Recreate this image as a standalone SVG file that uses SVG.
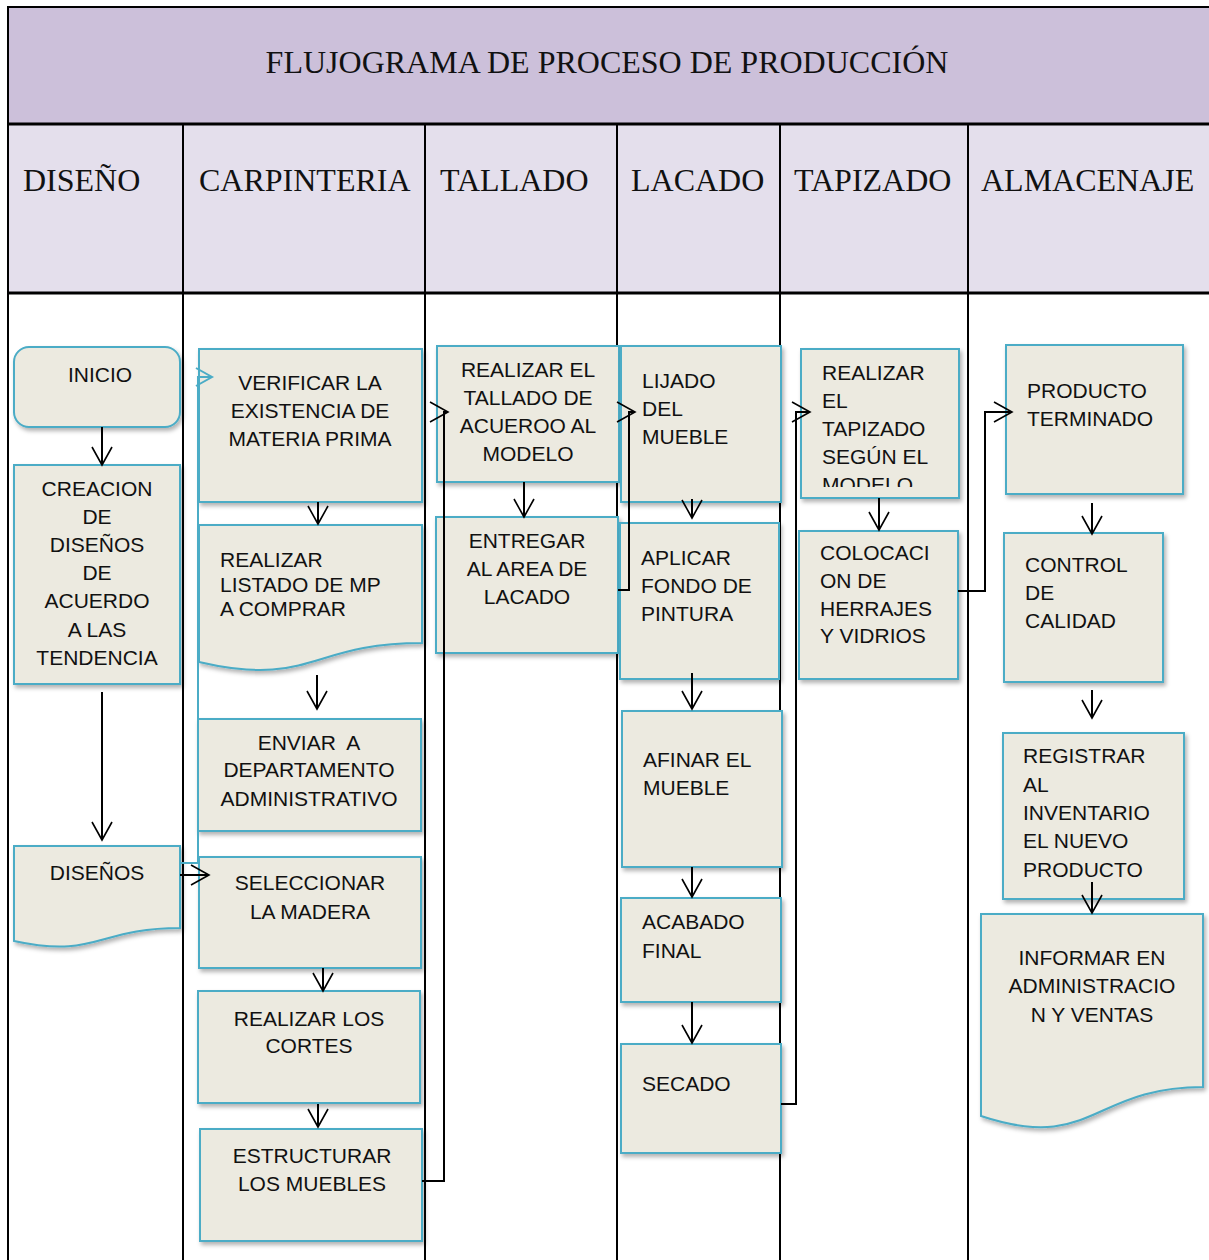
<svg xmlns="http://www.w3.org/2000/svg" width="1209" height="1260" viewBox="0 0 1209 1260">
<style>
.frame{stroke:#000;stroke-width:2;fill:none}
.thick{stroke:#000;stroke-width:3;fill:none}
.hdr{font-family:"Liberation Serif","Times New Roman",serif;font-size:32px;fill:#111}
.box{fill:#ECEAE0;stroke:#4BACC6;stroke-width:2;filter:url(#sh)}
.t{font-family:"Liberation Sans",Arial,sans-serif;font-size:21px;fill:#111}
.c{text-anchor:middle}
.conn{fill:none;stroke:#000;stroke-width:2}
.blue{fill:none;stroke:#4BACC6;stroke-width:2}
</style>
<defs>
<filter id="sh" x="-10%" y="-10%" width="130%" height="130%">
<feDropShadow dx="2" dy="3" stdDeviation="2" flood-color="#000" flood-opacity="0.3"/>
</filter>
<marker id="ah" markerUnits="userSpaceOnUse" markerWidth="22" markerHeight="24" refX="19" refY="11" orient="auto">
<path d="M1,1 L19,11 L1,21" fill="none" stroke="#000" stroke-width="1.6"/>
</marker>
<marker id="ahb" markerUnits="userSpaceOnUse" markerWidth="22" markerHeight="24" refX="17" refY="10" orient="auto">
<path d="M1,1 L17,10 L1,19" fill="none" stroke="#4BACC6" stroke-width="2"/>
</marker>
<clipPath id="clipTap"><rect x="801" y="349" width="158" height="138"/></clipPath>
</defs>

<g id="background">
<rect x="8" y="7" width="1201" height="117" fill="#CCC0DA"/>
<rect x="8" y="124" width="1201" height="169" fill="#E4DFEC"/>
<line class="frame" x1="8" y1="7" x2="1209" y2="7"/>
<line class="frame" x1="8" y1="6" x2="8" y2="1260"/>
<line class="thick" x1="8" y1="124" x2="1209" y2="124"/>
<line class="thick" x1="8" y1="293" x2="1209" y2="293"/>
<line class="frame" x1="183" y1="124" x2="183" y2="1260"/>
<line class="frame" x1="425" y1="124" x2="425" y2="1260"/>
<line class="frame" x1="617" y1="124" x2="617" y2="1260"/>
<line class="frame" x1="780" y1="124" x2="780" y2="1260"/>
<line class="frame" x1="968" y1="124" x2="968" y2="1260"/>
<text class="hdr" x="607" y="73" text-anchor="middle">FLUJOGRAMA DE PROCESO DE PRODUCCIÓN</text>
<text class="hdr" x="23" y="191">DISEÑO</text>
<text class="hdr" x="199" y="191">CARPINTERIA</text>
<text class="hdr" x="440" y="191">TALLADO</text>
<text class="hdr" x="631" y="191">LACADO</text>
<text class="hdr" x="794" y="191">TAPIZADO</text>
<text class="hdr" x="981" y="191">ALMACENAJE</text>
</g>

<g id="n-inicio">
<rect class="box" x="14" y="347" width="166" height="80" rx="15"/>
<text class="t c" x="100" y="382">INICIO</text>
</g>
<g id="n-creacion">
<rect class="box" x="14" y="465" width="166" height="219"/>
<text class="t c" x="97" y="496">CREACION</text>
<text class="t c" x="97" y="524">DE</text>
<text class="t c" x="97" y="552">DISEÑOS</text>
<text class="t c" x="97" y="580">DE</text>
<text class="t c" x="97" y="608">ACUERDO</text>
<text class="t c" x="97" y="637">A LAS</text>
<text class="t c" x="97" y="665">TENDENCIA</text>
</g>
<g id="n-disenos">
<path class="box" d="M14,846 H180 V928 C97,928 97,959 14,941 Z"/>
<text class="t c" x="97" y="880">DISEÑOS</text>
</g>
<g id="n-verificar">
<rect class="box" x="199" y="349" width="223" height="153"/>
<text class="t c" x="310" y="390">VERIFICAR LA</text>
<text class="t c" x="310" y="418">EXISTENCIA DE</text>
<text class="t c" x="310" y="446">MATERIA PRIMA</text>
</g>
<g id="n-listado">
<path class="box" d="M199,525 H422 V643 C310.5,643 310.5,688 199,662 Z"/>
<text class="t" x="220" y="567">REALIZAR</text>
<text class="t" x="220" y="592">LISTADO DE MP</text>
<text class="t" x="220" y="616">A COMPRAR</text>
</g>
<g id="n-enviar">
<rect class="box" x="198" y="719" width="223" height="112"/>
<text class="t c" x="309" y="750" xml:space="preserve">ENVIAR  A</text>
<text class="t c" x="309" y="777">DEPARTAMENTO</text>
<text class="t c" x="309" y="806">ADMINISTRATIVO</text>
</g>
<g id="n-seleccionar">
<rect class="box" x="199" y="857" width="222" height="111"/>
<text class="t c" x="310" y="890">SELECCIONAR</text>
<text class="t c" x="310" y="919">LA MADERA</text>
</g>
<g id="n-cortes">
<rect class="box" x="198" y="991" width="222" height="112"/>
<text class="t c" x="309" y="1026">REALIZAR LOS</text>
<text class="t c" x="309" y="1053">CORTES</text>
</g>
<g id="n-estructurar">
<rect class="box" x="200" y="1129" width="222" height="112"/>
<text class="t c" x="312" y="1163">ESTRUCTURAR</text>
<text class="t c" x="312" y="1191">LOS MUEBLES</text>
</g>
<g id="n-tallado">
<rect class="box" x="437" y="346" width="182" height="136"/>
<text class="t c" x="528" y="377">REALIZAR EL</text>
<text class="t c" x="528" y="405">TALLADO DE</text>
<text class="t c" x="528" y="433">ACUEROO AL</text>
<text class="t c" x="528" y="461">MODELO</text>
</g>
<g id="n-entregar">
<rect class="box" x="436" y="517" width="182" height="136"/>
<text class="t c" x="527" y="548">ENTREGAR</text>
<text class="t c" x="527" y="576">AL AREA DE</text>
<text class="t c" x="527" y="604">LACADO</text>
</g>
<g id="n-lijado">
<rect class="box" x="621" y="346" width="160" height="156"/>
<text class="t" x="642" y="388">LIJADO</text>
<text class="t" x="642" y="416">DEL</text>
<text class="t" x="642" y="444">MUEBLE</text>
</g>
<g id="n-aplicar">
<rect class="box" x="620" y="523" width="159" height="156"/>
<text class="t" x="641" y="565">APLICAR</text>
<text class="t" x="641" y="593">FONDO DE</text>
<text class="t" x="641" y="621">PINTURA</text>
</g>
<g id="n-afinar">
<rect class="box" x="622" y="711" width="160" height="156"/>
<text class="t" x="643" y="767">AFINAR EL</text>
<text class="t" x="643" y="795">MUEBLE</text>
</g>
<g id="n-acabado">
<rect class="box" x="621" y="898" width="160" height="104"/>
<text class="t" x="642" y="929">ACABADO</text>
<text class="t" x="642" y="958">FINAL</text>
</g>
<g id="n-secado">
<rect class="box" x="621" y="1044" width="160" height="109"/>
<text class="t" x="642" y="1091">SECADO</text>
</g>
<g id="n-tapizado">
<rect class="box" x="801" y="349" width="158" height="149"/>
<g clip-path="url(#clipTap)">
<text class="t" x="822" y="380">REALIZAR</text>
<text class="t" x="822" y="408">EL</text>
<text class="t" x="822" y="436">TAPIZADO</text>
<text class="t" x="822" y="464">SEGÚN EL</text>
<text class="t" x="822" y="492">MODELO</text>
</g>
</g>
<g id="n-colocacion">
<rect class="box" x="799" y="531" width="159" height="148"/>
<text class="t" x="820" y="560">COLOCACI</text>
<text class="t" x="820" y="588">ON DE</text>
<text class="t" x="820" y="616">HERRAJES</text>
<text class="t" x="820" y="643">Y VIDRIOS</text>
</g>
<g id="n-producto">
<rect class="box" x="1006" y="345" width="177" height="149"/>
<text class="t" x="1027" y="398">PRODUCTO</text>
<text class="t" x="1027" y="426">TERMINADO</text>
</g>
<g id="n-control">
<rect class="box" x="1004" y="533" width="159" height="149"/>
<text class="t" x="1025" y="572">CONTROL</text>
<text class="t" x="1025" y="600">DE</text>
<text class="t" x="1025" y="628">CALIDAD</text>
</g>
<g id="n-registrar">
<rect class="box" x="1003" y="733" width="181" height="166"/>
<text class="t" x="1023" y="763">REGISTRAR</text>
<text class="t" x="1023" y="792">AL</text>
<text class="t" x="1023" y="820">INVENTARIO</text>
<text class="t" x="1023" y="848">EL NUEVO</text>
<text class="t" x="1023" y="877">PRODUCTO</text>
</g>
<g id="n-informar">
<path class="box" d="M981,914 H1203 V1087 C1092,1087 1092,1153 981,1116 Z"/>
<text class="t c" x="1092" y="965">INFORMAR EN</text>
<text class="t c" x="1092" y="993">ADMINISTRACIO</text>
<text class="t c" x="1092" y="1022">N Y VENTAS</text>
</g>

<g id="connectors">
<path class="conn" d="M102,427 V465" marker-end="url(#ah)"/>
<path class="conn" d="M102,692 V840" marker-end="url(#ah)"/>
<path class="conn" d="M180,875 H209" marker-end="url(#ah)"/>
<path class="blue" d="M180,863 H198 V377 H212" marker-end="url(#ahb)"/>
<path class="conn" d="M318,502 V524" marker-end="url(#ah)"/>
<path class="conn" d="M317,675 V709" marker-end="url(#ah)"/>
<path class="conn" d="M323,968 V991" marker-end="url(#ah)"/>
<path class="conn" d="M318,1104 V1127" marker-end="url(#ah)"/>
<path class="conn" d="M422,1181 H444 V412 H448" marker-end="url(#ah)"/>
<path class="conn" d="M524,482 V517" marker-end="url(#ah)"/>
<path class="conn" d="M618,590 H629 V412 H635" marker-end="url(#ah)"/>
<path class="conn" d="M692,499 V518" marker-end="url(#ah)"/>
<path class="conn" d="M692,673 V709" marker-end="url(#ah)"/>
<path class="conn" d="M692,867 V897" marker-end="url(#ah)"/>
<path class="conn" d="M692,1002 V1043" marker-end="url(#ah)"/>
<path class="conn" d="M781,1104 H796 V412 H810" marker-end="url(#ah)"/>
<path class="conn" d="M879,498 V530" marker-end="url(#ah)"/>
<path class="conn" d="M958,591 H985 V412 H1012" marker-end="url(#ah)"/>
<path class="conn" d="M1092,503 V534" marker-end="url(#ah)"/>
<path class="conn" d="M1092,690 V718" marker-end="url(#ah)"/>
<path class="conn" d="M1092,882 V913" marker-end="url(#ah)"/>
</g>
</svg>
